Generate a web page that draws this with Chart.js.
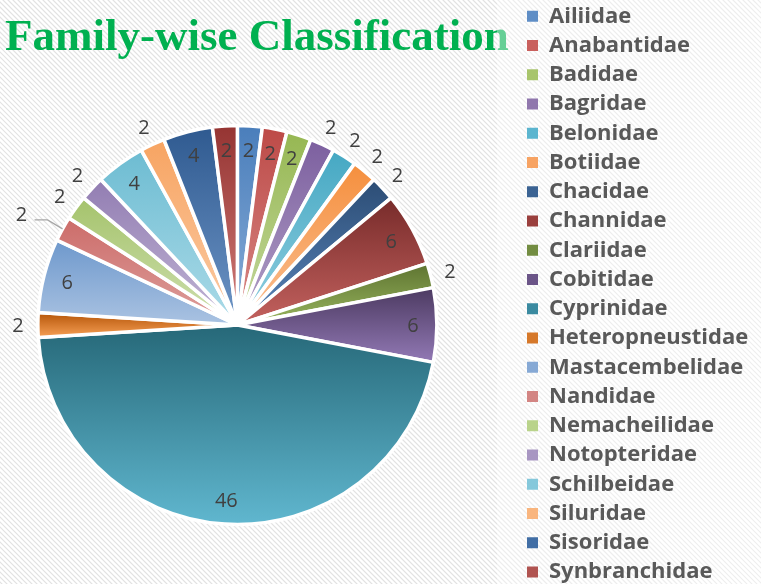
<!DOCTYPE html>
<html>
<head>
<meta charset="utf-8">
<title>Family-wise Classification</title>
<script src="https://cdn.jsdelivr.net/npm/chart.js@4.4.1/dist/chart.umd.min.js"></script>
<style>
  html, body { margin: 0; padding: 0; background: #ffffff; }
  .frame { width: 761px; height: 584px; overflow: hidden; position: relative; }
  canvas { display: block; position: absolute; }
</style>
</head>
<body>
<div class="frame"><canvas id="familyChart"></canvas></div>
<script>
// data
const families = [
  "Ailiidae", "Anabantidae", "Badidae", "Bagridae", "Belonidae",
  "Botiidae", "Chacidae", "Channidae", "Clariidae", "Cobitidae",
  "Cyprinidae", "Heteropneustidae", "Mastacembelidae", "Nandidae", "Nemacheilidae",
  "Notopteridae", "Schilbeidae", "Siluridae", "Sisoridae", "Synbranchidae",
]
const speciesShare = [2, 2, 2, 2, 2, 2, 2, 6, 2, 6, 46, 2, 6, 2, 2, 2, 4, 2, 4, 2]

// where each value label sits: inside the slice, outside it, or outside with a leader line
const labelSpots = [
  "in", "in", "in", "out", "out", "out", "out", "in", "out", "in",
  "in", "out", "in", "leader", "out", "out", "in", "out", "in", "in",
]

// slice gradients, dark at the top of each slice and light at its bottom
const topColors = [
  "#4a7ebb", "#bd4a47", "#96b752", "#7c5f9f", "#45a8c3",
  "#f58f3d", "#2c4d75", "#772b2a", "#5e7431", "#4c3a61",
  "#266878", "#b45407", "#6e98cc", "#cc6c69", "#a5c36c",
  "#927db2", "#6dbcd2", "#f7a462", "#2f5a90", "#953432",
]
const bottomColors = [
  "#8aaed8", "#d88a88", "#c5d9a0", "#b3a2c8", "#92cfe0",
  "#fac196", "#5a85bb", "#c4625f", "#98b55e", "#9279b5",
  "#60b7cf", "#f7a056", "#aac3e2", "#dea09e", "#cfe0b0",
  "#c2b6d6", "#acdbe8", "#fbcca6", "#6e95c6", "#d27d7a",
]
const legendColors = [
  "#5f8ec6", "#c9605d", "#a8c56c", "#9077ad", "#5bb5cf",
  "#f7a363", "#3b6393", "#9a3f3d", "#738d42", "#6b5588",
  "#3a8aa0", "#d6782a", "#86a9d5", "#d38583", "#b9d38b",
  "#a896c2", "#85c8db", "#f9b57e", "#416ea5", "#b05350",
]

const pieCenter = { x: 237.5, y: 325 }
const pieRadius = 199.5
const legendFont = { family: "'Open Sans', sans-serif", size: 22, weight: "bold" }
const legendPadding = 7.25
const legendBox = 11
const legendLeft = 519.75
// the canvas hangs off the left and top edges so the pie can sit left of the legend
const shiftX = Math.round(legendLeft - 2 * pieCenter.x)
const shiftY = 2

function measureLongestFamily() {
  const probe = document.createElement("canvas").getContext("2d")
  probe.font = `bold ${legendFont.size}px ${legendFont.family}`
  return Math.max(...families.map((name) => probe.measureText(name).width))
}

function sliceGradient(context) {
  const chart = context.chart
  const i = context.dataIndex
  if (i === undefined || !chart.chartArea) return legendColors[0]
  const area = chart.chartArea
  const cx = (area.left + area.right) / 2
  const cy = (area.top + area.bottom) / 2
  const total = speciesShare.reduce((a, b) => a + b, 0)
  const before = speciesShare.slice(0, i).reduce((a, b) => a + b, 0)
  const a0 = (before / total) * Math.PI * 2
  const a1 = ((before + speciesShare[i]) / total) * Math.PI * 2
  const ys = [cy, cy - pieRadius * Math.cos(a0), cy - pieRadius * Math.cos(a1)]
  if (a0 <= 0.0001) ys.push(cy - pieRadius)
  if (a0 < Math.PI && a1 > Math.PI) ys.push(cy + pieRadius)
  const top = Math.min(...ys)
  const bottom = Math.max(...ys)
  const g = chart.ctx.createLinearGradient(0, top, 0, bottom)
  g.addColorStop(0, topColors[i])
  g.addColorStop(1, bottomColors[i])
  return g
}

const backdropPlugin = {
  id: "backdrop",
  beforeDraw(chart) {
    const { ctx, width, height } = chart
    ctx.save()
    ctx.fillStyle = "#ffffff"
    ctx.fillRect(0, 0, width, height)
    ctx.strokeStyle = "#e2e2e2"
    ctx.lineWidth = 1.2
    ctx.beginPath()
    for (let k = -height; k < width; k += 5) {
      ctx.moveTo(k, 0)
      ctx.lineTo(k + height, height)
    }
    ctx.stroke()
    ctx.font = "bold 45px 'Liberation Serif', serif"
    ctx.fillStyle = "#00b050"
    ctx.textBaseline = "alphabetic"
    ctx.textAlign = "left"
    ctx.fillText("Family-wise Classification", shiftX + 5, shiftY + 50)
    ctx.fillStyle = "rgba(255, 255, 255, 0.4)"
    ctx.fillRect(shiftX + 497, 0, width - 497 - shiftX, height)
    ctx.restore()
  },
}

const valueLabelPlugin = {
  id: "valueLabels",
  afterDatasetsDraw(chart) {
    const { ctx } = chart
    const meta = chart.getDatasetMeta(0)
    ctx.save()
    ctx.font = "20px 'Open Sans', sans-serif"
    ctx.fillStyle = "#404040"
    ctx.textAlign = "center"
    ctx.textBaseline = "middle"
    meta.data.forEach((arc, i) => {
      const { x, y, startAngle, endAngle, outerRadius } = arc.getProps(
        ["x", "y", "startAngle", "endAngle", "outerRadius"],
        true,
      )
      const mid = (startAngle + endAngle) / 2
      const spot = labelSpots[i]
      let lx, ly
      if (spot === "leader") {
        const ex = x + Math.cos(mid) * outerRadius
        const ey = y + Math.sin(mid) * outerRadius
        ctx.strokeStyle = "#a6a6a6"
        ctx.lineWidth = 1.3
        ctx.beginPath()
        ctx.moveTo(ex, ey)
        ctx.lineTo(ex - 15, ey - 9)
        ctx.lineTo(ex - 28, ey - 9)
        ctx.stroke()
        lx = ex - 41
        ly = ey - 15
      } else {
        const r = spot === "in" ? outerRadius * 0.88 : outerRadius * 1.1
        lx = x + Math.cos(mid) * r
        ly = y + Math.sin(mid) * r
      }
      ctx.fillText(String(speciesShare[i]), lx, ly + 1.5)
    })
    ctx.restore()
  },
}

const canvas = document.getElementById("familyChart")
canvas.width = 761 + shiftX
canvas.height = 2 * (pieCenter.y + shiftY)
canvas.style.width = canvas.width + "px"
canvas.style.height = canvas.height + "px"
canvas.style.left = -shiftX + "px"
canvas.style.top = -shiftY + "px"

const legendWidth = legendPadding + legendBox + legendFont.size / 2 + measureLongestFamily() + 10
const padRight = Math.max(0, 761 - legendLeft - legendWidth)

new Chart(canvas, {
  type: "pie",
  data: {
    labels: families,
    datasets: [
      {
        data: speciesShare,
        backgroundColor: sliceGradient,
        borderColor: "#ffffff",
        borderWidth: 3.5,
        hoverOffset: 0,
      },
    ],
  },
  options: {
    responsive: false,
    animation: false,
    devicePixelRatio: 1,
    events: [],
    radius: pieRadius,
    layout: {
      padding: { left: 0, right: padRight, top: 0, bottom: 0 },
    },
    plugins: {
      title: { display: false },
      tooltip: { enabled: false },
      legend: {
        position: "right",
        align: "start",
        labels: {
          boxWidth: legendBox,
          boxHeight: legendBox,
          padding: legendPadding,
          color: "#595959",
          font: legendFont,
          generateLabels: () =>
            families.map((name, i) => ({
              text: name,
              fillStyle: legendColors[i],
              strokeStyle: legendColors[i],
              fontColor: "#595959",
              lineWidth: 0,
              hidden: false,
              index: i,
            })),
        },
      },
    },
  },
  plugins: [backdropPlugin, valueLabelPlugin],
})
</script>
</body>
</html>
